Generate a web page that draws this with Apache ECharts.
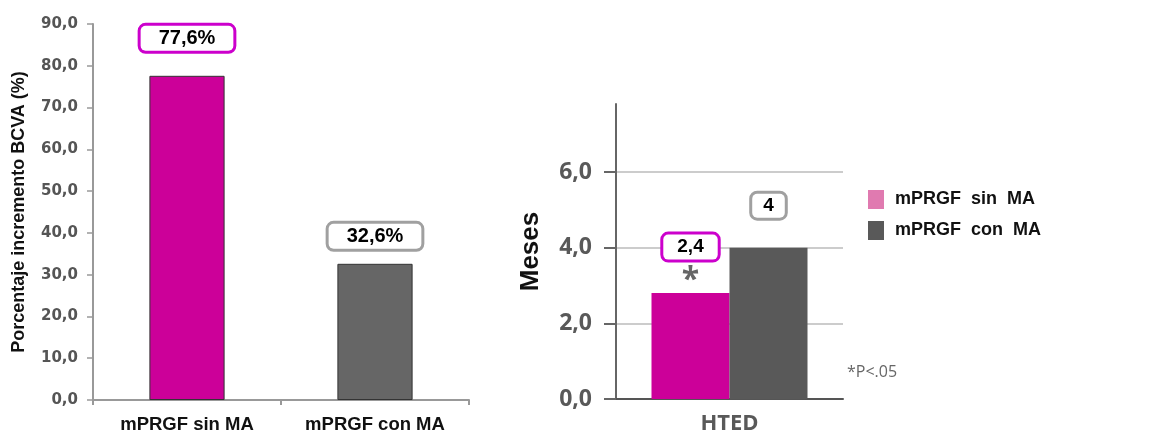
<!DOCTYPE html>
<html>
<head>
<meta charset="utf-8">
<script src="https://cdn.jsdelivr.net/npm/echarts@6/dist/echarts.min.js"></script>
<style>
html,body{margin:0;padding:0;background:#fff;}
#c{width:1150px;height:437px;}
</style>
</head>
<body>
<div id="c"></div>
<script>
// Left chart data
const leftCategories = ['mPRGF sin MA', 'mPRGF con MA'];
const leftValues = [77.6, 32.6];
const leftLabels = ['77,6%', '32,6%'];
const leftTicks = [0, 10, 20, 30, 40, 50, 60, 70, 80, 90];

// Right chart data
const rightCategories = ['HTED'];
const rightSeriesNames = ['mPRGF sin MA', 'mPRGF con MA'];
const rightSin = [2.8];
const rightCon = [4];
const rightLabels = ['2,4', '4'];
const rightTicks = [0, 2, 4, 6];
const footnote = '*P<.05';

const PINK = '#CC0099';
const GRAY_L = '#666666';
const GRAY_R = '#595959';
const BOX_PINK = '#CC00CC';
const BOX_GRAY = '#A0A0A0';

const chart = echarts.init(document.getElementById('c'), null, {renderer: 'canvas'});

const fmt1 = v => v.toFixed(1).replace('.', ',');

chart.setOption({
  backgroundColor: '#ffffff',
  animation: false,
  legend: {
    left: 863, top: 185,
    orient: 'vertical',
    itemWidth: 16, itemHeight: 19, itemGap: 12,
    icon: 'rect',
    textStyle: {fontFamily: 'Liberation Sans, Arial', fontWeight: 'bold', fontSize: 18, color: '#111', padding: [0, 0, 0, 6]},
    formatter: n => n.replace(/ /g, '  '),
    data: [
      {name: rightSeriesNames[0], itemStyle: {color: '#E07AB0'}},
      {name: rightSeriesNames[1], itemStyle: {color: GRAY_R}}
    ]
  },
  graphic: [{
    type: 'text', left: 847, top: 364,
    style: {text: footnote, fontFamily: 'Open Sans', fontSize: 16, fill: '#666', fontWeight: 400}
  }],
  grid: [
    {left: 93, right: 681, top: 24, bottom: 37},
    {left: 616, right: 307, top: 104, bottom: 38}
  ],
  xAxis: [
    {
      type: 'category', gridIndex: 0, data: leftCategories,
      axisLine: {lineStyle: {color: '#999', width: 2}},
      axisTick: {show: true, length: 5, lineStyle: {color: '#999', width: 2}},
      axisLabel: {fontFamily: 'Liberation Sans, Arial', fontWeight: 'bold', fontSize: 18.5, color: '#111', margin: 15}
    },
    {
      type: 'category', gridIndex: 1, data: rightCategories,
      axisLine: {lineStyle: {color: '#555', width: 2}},
      axisTick: {show: false},
      axisLabel: {fontFamily: 'Open Sans', fontWeight: 'bold', fontSize: 22, color: GRAY_R, margin: 14}
    }
  ],
  yAxis: [
    {
      type: 'value', gridIndex: 0, min: leftTicks[0], max: leftTicks[leftTicks.length - 1], interval: 10,
      name: 'Porcentaje incremento BCVA (%)', nameLocation: 'middle', nameGap: 65,
      nameTextStyle: {fontFamily: 'Liberation Sans, Arial', fontWeight: 'bold', fontSize: 18, color: '#111'},
      axisLine: {show: true, lineStyle: {color: '#999', width: 2}},
      axisTick: {show: true, length: 6, lineStyle: {color: '#999', width: 1.5}},
      splitLine: {show: false},
      axisLabel: {fontFamily: 'DejaVu Sans', fontWeight: 'bold', fontSize: 15, color: '#555', margin: 15, formatter: fmt1}
    },
    {
      type: 'value', gridIndex: 1, min: 0, max: 7.8, interval: 2,
      name: 'Meses', nameLocation: 'middle', nameGap: 72,
      nameTextStyle: {fontFamily: 'Liberation Sans, Arial', fontWeight: 'bold', fontSize: 26, color: '#111'},
      axisLine: {show: true, lineStyle: {color: '#666', width: 2}},
      axisTick: {show: true, length: 12, customValues: rightTicks, lineStyle: {color: '#666', width: 2}},
      splitLine: {show: true, lineStyle: {color: '#cccccc', width: 2}},
      axisLabel: {fontFamily: 'Open Sans', fontWeight: 'bold', fontSize: 23, color: GRAY_R, margin: 24,
        customValues: rightTicks, formatter: fmt1}
    }
  ],
  series: [
    {
      type: 'bar', name: 'BCVA', xAxisIndex: 0, yAxisIndex: 0, barWidth: '40%',
      data: leftValues.map((v, i) => ({
        value: v,
        itemStyle: {color: i === 0 ? PINK : GRAY_L, borderColor: '#333', borderWidth: 1},
        label: {
          show: true, position: 'top', distance: i === 0 ? 25 : 15,
          formatter: leftLabels[i],
          fontFamily: 'Liberation Sans, Arial', fontWeight: 'bold', fontSize: 20, color: '#000',
          backgroundColor: '#fff', borderColor: i === 0 ? BOX_PINK : BOX_GRAY, borderWidth: 3, borderRadius: 5,
          padding: [2, 18, 2, 18], lineHeight: 21
        }
      }))
    },
    {
      type: 'bar', name: rightSeriesNames[0], xAxisIndex: 1, yAxisIndex: 1, barWidth: 78, barGap: '0%',
      itemStyle: {color: PINK},
      data: rightSin,
      label: {
        show: true, position: 'top', distance: 8,
        formatter: '{b|' + rightLabels[0] + '}\n{s|*}',
        rich: {
          b: {fontFamily: 'Liberation Sans, Arial', fontWeight: 'bold', fontSize: 19, color: '#000', lineHeight: 20,
              backgroundColor: '#fff', borderColor: BOX_PINK, borderWidth: 3, borderRadius: 5, padding: [3, 14, 3, 14]},
          s: {fontFamily: 'Open Sans', fontWeight: 'bold', fontSize: 32, color: '#666', lineHeight: 28, padding: [20, 0, 0, 0]}
        }
      }
    },
    {
      type: 'bar', name: rightSeriesNames[1], xAxisIndex: 1, yAxisIndex: 1, barWidth: 78, barGap: '0%',
      itemStyle: {color: GRAY_R},
      data: rightCon,
      label: {
        show: true, position: 'top', distance: 30,
        formatter: rightLabels[1],
        fontFamily: 'Liberation Sans, Arial', fontWeight: 'bold', fontSize: 19, color: '#000', lineHeight: 20,
        backgroundColor: '#fff', borderColor: BOX_GRAY, borderWidth: 3, borderRadius: 5, padding: [2, 11, 2, 11]
      }
    }
  ]
});
</script>
</body>
</html>
